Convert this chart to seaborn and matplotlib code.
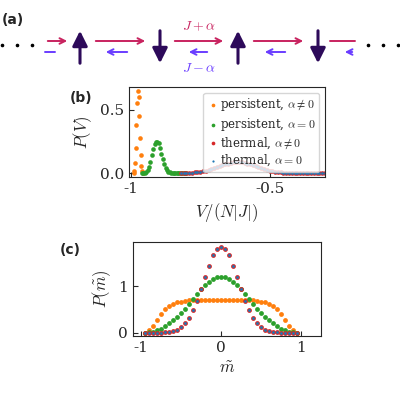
import numpy as np
import pandas as pd
import matplotlib
matplotlib.use("Agg")
import matplotlib.pyplot as plt
import seaborn as sns

sns.set_style("ticks")
plt.rcParams['font.family'] = ['DejaVu Serif']
plt.rcParams['mathtext.fontset'] = 'cm'

ORANGE, GREEN, RED, BLUE = '#ff7f0e', '#2ca02c', '#d62728', '#1f77b4'
PINK, VIOLET, SPIN = '#c8235f', '#6a3dff', '#2d0a5a'

# ---- panel (b) data: P(V) vs V/(N|J|)
v_pers_a = [-0.99, -0.9875, -0.985, -0.9825, -0.98, -0.9775, -0.975, -0.9725,
            -0.97, -0.9675, -0.965, -0.9625, -0.96, -0.9575, -0.955]
p_pers_a = [0.0, 0.02, 0.08, 0.2, 0.38, 0.55, 0.65, 0.6,
            0.45, 0.28, 0.14, 0.06, 0.02, 0.005, 0.0]

v_pers_0 = [-0.96, -0.955, -0.95, -0.945, -0.94, -0.935, -0.93, -0.925, -0.92,
            -0.915, -0.91, -0.905, -0.9, -0.895, -0.89, -0.885, -0.88, -0.875,
            -0.87, -0.865, -0.86, -0.855, -0.85, -0.845, -0.84, -0.835, -0.83,
            -0.825, -0.82, -0.815, -0.81, -0.805, -0.8]
p_pers_0 = [0.0, 0.002, 0.005, 0.012, 0.027, 0.052, 0.09, 0.14, 0.19,
            0.23, 0.25, 0.25, 0.235, 0.2, 0.155, 0.11, 0.072, 0.043,
            0.024, 0.012, 0.006, 0.003, 0.001, 0.0, 0.0, 0.0, 0.0,
            0.0, 0.0, 0.0, 0.0, 0.0, 0.0]

v_therm = [round(-0.82 + 0.01 * i, 2) for i in range(53)]
p_therm = [0.0, 0.0, 0.0015, 0.003, 0.005, 0.007, 0.009, 0.012, 0.016, 0.021,
           0.026, 0.032, 0.039, 0.047, 0.055, 0.062, 0.070, 0.076, 0.082, 0.086,
           0.089, 0.089, 0.086, 0.082, 0.076, 0.070, 0.062, 0.055, 0.047, 0.039,
           0.032, 0.026, 0.021, 0.016, 0.012, 0.009, 0.007, 0.005, 0.003, 0.002,
           0.0015, 0.001, 0.0, 0.0, 0.0, 0.0, 0.0, 0.0, 0.0, 0.0,
           0.0, 0.0, 0.0]

# ---- panel (c) data: P(m~), half profiles from m=0 to 0.95
m_half = [0.0, 0.05, 0.1, 0.15, 0.2, 0.25, 0.3, 0.35, 0.4, 0.45,
          0.5, 0.55, 0.6, 0.65, 0.7, 0.75, 0.8, 0.85, 0.9, 0.95]
pm_pers_a = [0.71, 0.71, 0.71, 0.71, 0.71, 0.71, 0.71, 0.71, 0.7, 0.69,
             0.67, 0.65, 0.62, 0.57, 0.5, 0.4, 0.28, 0.15, 0.05, 0.0]
pm_pers_0 = [1.2, 1.19, 1.15, 1.09, 1.02, 0.93, 0.83, 0.73, 0.62, 0.52,
             0.43, 0.34, 0.27, 0.2, 0.14, 0.09, 0.05, 0.02, 0.01, 0.0]
pm_therm = [1.85, 1.8, 1.66, 1.44, 1.19, 0.93, 0.69, 0.48, 0.32, 0.2,
            0.12, 0.065, 0.034, 0.017, 0.008, 0.0, 0.0, 0.0, 0.0, 0.0]


def mirror(xs, ys):
    return [-x for x in xs[:0:-1]] + xs, ys[:0:-1] + ys


fig = plt.figure(figsize=(4, 4), dpi=100)

# ---- panel (a): schematic chain
axa = fig.add_axes([0, 0.8, 1, 0.2])
axa.set_xlim(0, 400)
axa.set_ylim(80, 0)
axa.axis('off')
fig.text(0.005, 0.94, '(a)', fontsize=10, fontweight='bold', family='DejaVu Sans')
for xd in [2, 17, 32]:
    axa.plot(xd, 45, 'o', color='k', ms=1.6)
    axa.plot(400 - xd, 45, 'o', color='k', ms=1.6)
spins = [(80, 'up'), (160, 'down'), (238, 'up'), (318, 'down')]
for x, d in spins:
    y0, y1 = (66, 28) if d == 'up' else (28, 66)
    axa.annotate('', xy=(x, y1), xytext=(x, y0),
                 arrowprops=dict(arrowstyle='-|>,head_width=0.45,head_length=0.9',
                                 color=SPIN, lw=2.2))
for x0, x1 in [(45, 70), (93, 148), (172, 226), (251, 306)]:
    axa.annotate('', xy=(x1, 41), xytext=(x0, 41),
                 arrowprops=dict(arrowstyle='->', color=PINK, lw=1.4))
axa.plot([330, 355], [41, 41], color=PINK, lw=1.4)
for x0, x1 in [(130, 103), (210, 186), (288, 262), (355, 342)]:
    axa.annotate('', xy=(x1, 52), xytext=(x0, 52),
                 arrowprops=dict(arrowstyle='->', color=VIOLET, lw=1.4))
axa.plot([45, 55], [52, 52], color=VIOLET, lw=1.4)
axa.text(199, 26, r'$J+\alpha$', color=PINK, fontsize=10, ha='center', va='center')
axa.text(199, 68, r'$J-\alpha$', color=VIOLET, fontsize=10, ha='center', va='center')

# ---- panel (b)
axb = fig.add_axes([0.3225, 0.5575, 0.49, 0.225])
kw = dict(s=11, linewidth=0, ax=axb)
sns.scatterplot(x=v_pers_a, y=p_pers_a, color=ORANGE, label=r'persistent, $\alpha\neq0$', **kw)
sns.scatterplot(x=v_pers_0, y=p_pers_0, color=GREEN, label=r'persistent, $\alpha=0$', **kw)
sns.scatterplot(x=v_therm, y=p_therm, color=RED, label=r'thermal, $\alpha\neq0$', **kw)
sns.scatterplot(x=v_therm, y=p_therm, color=BLUE, s=4, linewidth=0, ax=axb,
                label=r'thermal, $\alpha=0$')
axb.set_xlim(-1.007, -0.3)
axb.set_ylim(-0.03, 0.68)
axb.set_xticks([-1, -0.5])
axb.set_xticklabels(['-1', '-0.5'])
axb.set_yticks([0, 0.5])
axb.set_yticklabels(['0.0', '0.5'])
axb.tick_params(direction='in', labelsize=11)
axb.set_xlabel(r'$V/(N|J|)$', fontsize=12)
axb.set_ylabel(r'$P(V)$', fontsize=12)
axb.legend(loc='upper right', fontsize=8.5, handletextpad=0.1,
           borderpad=0.3, labelspacing=0.2, handlelength=1.0, markerscale=0.8)
fig.text(0.175, 0.745, '(b)', fontsize=10, fontweight='bold', family='DejaVu Sans')

# ---- panel (c)
axc = fig.add_axes([0.3325, 0.16, 0.47, 0.235])
mx, my = mirror(m_half, pm_pers_a)
sns.scatterplot(x=mx, y=my, color=ORANGE, s=12, linewidth=0, ax=axc)
mx, my = mirror(m_half, pm_pers_0)
sns.scatterplot(x=mx, y=my, color=GREEN, s=12, linewidth=0, ax=axc)
mx, my = mirror(m_half, pm_therm)
sns.scatterplot(x=mx, y=my, color=RED, s=12, linewidth=0, ax=axc)
sns.scatterplot(x=mx, y=my, color=BLUE, s=4, linewidth=0, ax=axc)
axc.set_xlim(-1.1, 1.25)
axc.set_ylim(-0.07, 1.95)
axc.set_xticks([-1, 0, 1])
axc.set_xticklabels(['-1', '0', '1'])
axc.set_yticks([0, 1])
axc.tick_params(direction='in', labelsize=11)
axc.set_xlabel(r'$\tilde{m}$', fontsize=12)
axc.set_ylabel(r'$P(\tilde{m})$', fontsize=12)
fig.text(0.15, 0.365, '(c)', fontsize=10, fontweight='bold', family='DejaVu Sans')

fig.savefig('out.png', dpi=100)
